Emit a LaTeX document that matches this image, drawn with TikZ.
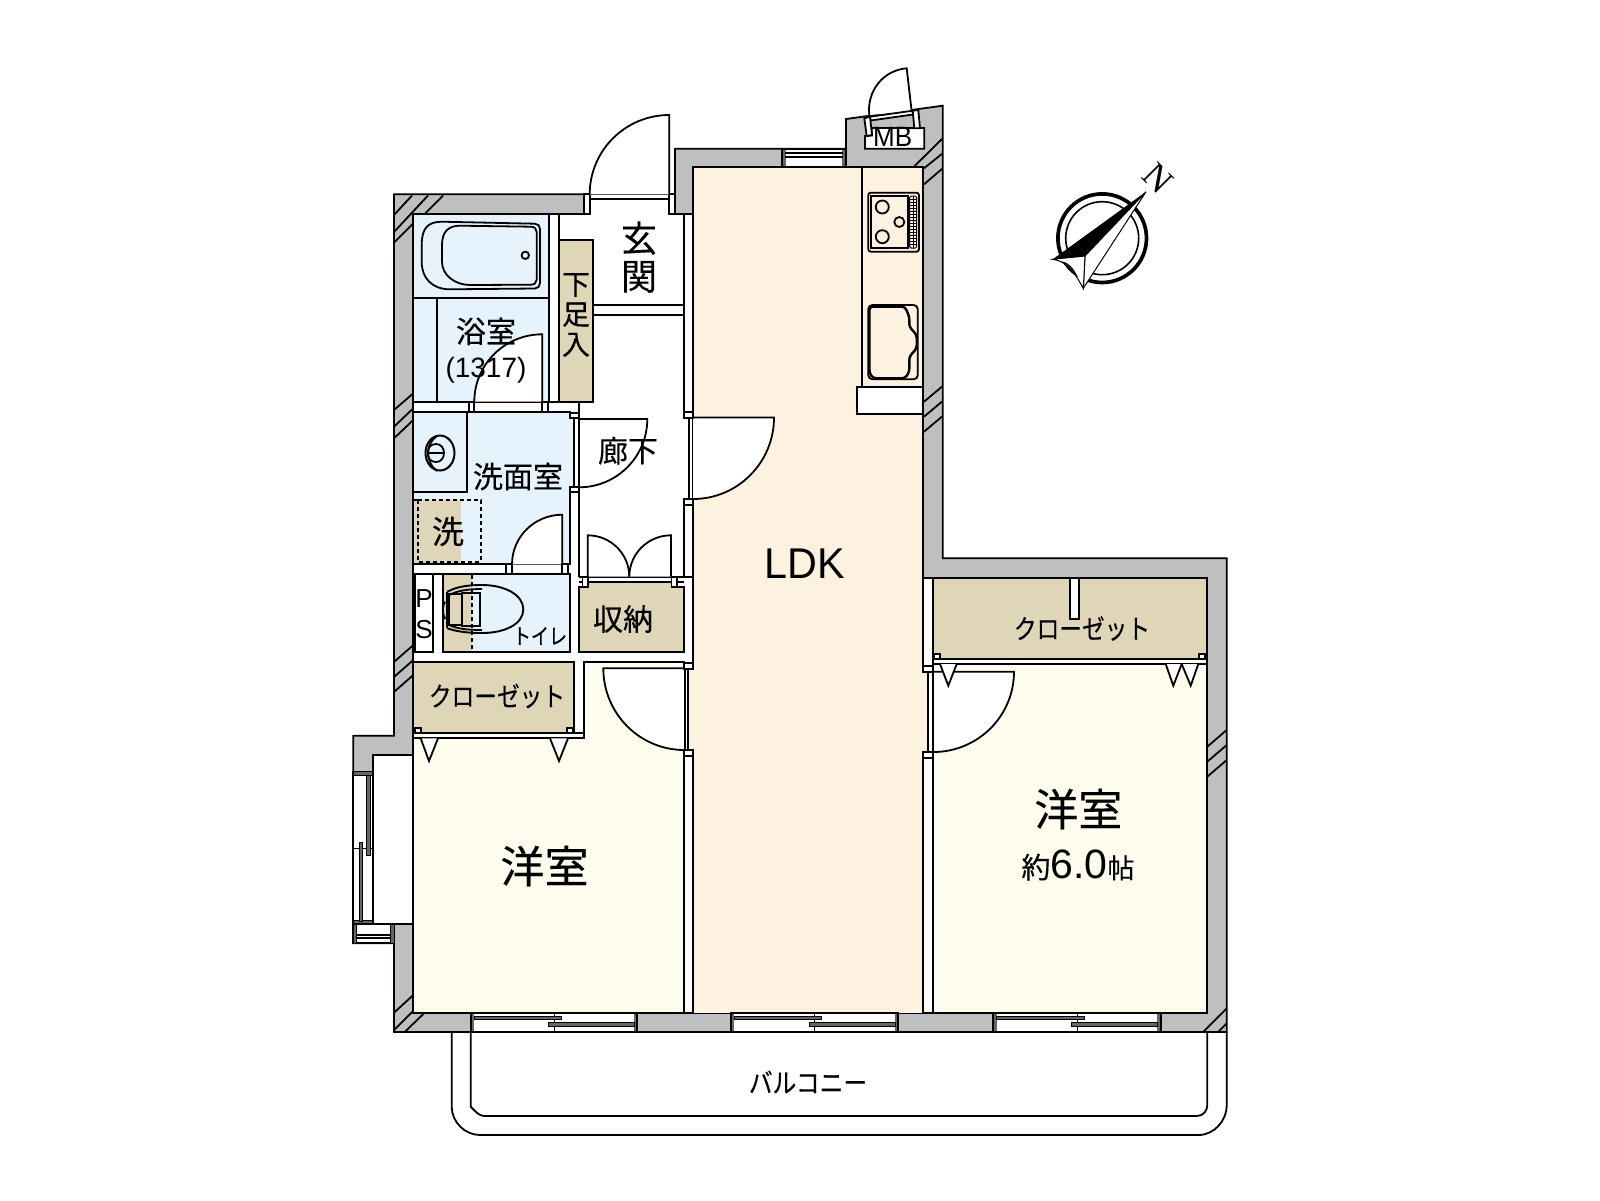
\documentclass[tikz,border=0pt]{standalone}
\usepackage{fontspec}
\usepackage{graphicx}
\usetikzlibrary{calc}
\setmainfont{Liberation Sans}
\newfontfamily\jp[FakeBold=0.25]{Noto Sans CJK JP}
\newcommand\jpfs[2]{\fontsize{#1}{#2}\selectfont}
\definecolor{wallgrey}{HTML}{BEC0BF}
\definecolor{ldkcream}{HTML}{FDF1DF}
\definecolor{roomcream}{HTML}{FFFDEE}
\definecolor{bathblue}{HTML}{E6F3FC}
\definecolor{closettan}{HTML}{DFD6B8}
\definecolor{sashgrey}{HTML}{666666}
\newcommand\swing[4]{%
  \fill[white] (#1) -- (#2) .. controls ($(#2)!.5523!(#4)$) and ($(#3)!.5523!(#4)$) .. (#3) -- cycle;
  \draw[ln] (#1) -- (#2) .. controls ($(#2)!.5523!(#4)$) and ($(#3)!.5523!(#4)$) .. (#3);}
\newcommand\jamb[2]{\draw[ln,fill=white] (#1) rectangle (#2);}
\newcommand\sash[2]{\draw[line width=1pt,fill=sashgrey] (#1) rectangle (#2);}
\newcommand\hatch[2]{\draw[ln] (#1) -- (#2);}
\tikzset{
  ln/.style={line width=1.8pt,black,line join=miter},
  thinln/.style={line width=1pt,black},
  txt/.style={inner sep=0pt,outer sep=0pt,text=black,align=center},
  jptxt/.style={txt,font=\jp},
  dashln/.style={line width=1.7pt,black,dash pattern=on 4pt off 3pt}
}
\begin{document}
\begin{tikzpicture}[x=1pt,y=-1pt]
\useasboundingbox (0,0) rectangle (1600,1200);
\fill[white] (0,0) rectangle (1600,1200);

% balcony
\draw[ln] (451.7,1032) -- (451.7,1106.7) .. controls (451.7,1122) and (465,1135) .. (480,1135) -- (1198.3,1135) .. controls (1214,1135) and (1226.7,1121) .. (1226.7,1105) -- (1226.7,1032);
\draw[ln] (470.7,1032) -- (470.7,1106.7) -- (475,1111) .. controls (478,1114) and (481,1116) .. (485,1116) -- (1196.7,1116) .. controls (1203,1116) and (1207.3,1111) .. (1207.3,1105) -- (1207.3,1032);

% walls
\draw[ln,fill=wallgrey] (394,194.3) -- (675,194.3) -- (675,148.7) -- (846,148.7) -- (846,119) -- (942.7,105.7) -- (942.7,558.3) -- (1226.7,558.3) -- (1226.7,1032) -- (394,1032) -- (394,943.3) -- (353.3,943.3) -- (353.3,735.7) -- (394,735.7) -- cycle;

% hatching on walls
\hatch{394,215}{412,195.5}
\hatch{394,232}{428,195.5}
\hatch{425,213.7}{443,195.5}
\hatch{394,242.7}{413.3,223.3}
\hatch{394,410}{413.3,393.3}
\hatch{394,426.7}{413.3,408.3}
\hatch{394,438.3}{413.3,420}
\hatch{394.3,661.7}{413.3,645}
\hatch{394.3,676.7}{413.3,660}
\hatch{394.3,691.7}{413.3,675}
\hatch{394,1012.7}{413.3,995}
\hatch{394,1030}{413.3,1010.7}
\hatch{405,1031.7}{423.3,1014}
\hatch{913.3,167.3}{942.7,138.3}
\hatch{924,168.3}{942.7,153.3}
\hatch{924,184.3}{942.7,168.3}
\hatch{924,401.7}{942.7,386}
\hatch{924,416.7}{942.7,401}
\hatch{924,431.7}{942.7,416}
\hatch{1207.3,746.7}{1226.7,730}
\hatch{1207.3,761.7}{1226.7,745}
\hatch{1207.3,776.7}{1226.7,760}
\hatch{1203.3,1031.7}{1226.7,1008.3}
\hatch{1218.3,1031.7}{1226.7,1023.3}

% interior base
\draw[ln,fill=white] (413.3,213.7) -- (584,213.7) -- (584,194.3) -- (675,194.3) -- (675,213.7) -- (693,213.7) -- (693,167.3) -- (923.3,167.3) -- (923.3,577.7) -- (1207.3,577.7) -- (1207.3,1012.7) -- (413.3,1012.7) -- (413.3,924) -- (372.7,924) -- (372.7,754.7) -- (413.3,754.7) -- cycle;

% LDK
\fill[ldkcream] (693,167.3) rectangle (923.3,1012.7);
\fill[ldkcream] (688.3,669) rectangle (693.5,750);
\fill[ldkcream] (923,671.7) rectangle (928.3,752);
\draw[ln] (693,213.7) -- (693,167.3) -- (923.3,167.3) -- (923.3,665.7);
\draw[ln] (923.3,758.3) -- (923.3,1012.7);
\draw[ln] (693,505) -- (693,663);
\draw[ln] (693,756) -- (693,1012.7);
\draw[ln] (693,213.7) -- (693,411.7);
\draw[ln] (684,213.7) -- (684,411.7);
\draw[ln] (684,505) -- (684,577);
\draw[ln] (689,417.5) -- (689,499);
% kitchen
\draw[ln] (862,167.3) -- (862,387.3);
\draw[ln,fill=white] (856.7,387.3) rectangle (923.3,414);
% stove
\draw[ln,rounded corners=2.5pt] (868.3,192.7) rectangle (919,251.7);
\draw[ln] (871,195.7) rectangle (908.3,248.3);
\draw[ln] (882.3,207) circle[radius=6.5];
\draw[ln] (899.3,222) circle[radius=5];
\draw[ln] (882.3,236.7) circle[radius=6.5];
\draw[thinln,rounded corners=1.5pt] (909.7,196) rectangle (916.7,248);
\draw[thinln] (913.2,196) -- (913.2,248);
\foreach \gy in {199,202,205,208,211,214,217,220,223,226,229,232,235,238,241,244}
  \draw[thinln] (909.7,\gy) -- (916.7,\gy);
% sink
\draw[ln,rounded corners=4pt] (868.3,305) rectangle (917.7,379.3);
\draw[line width=2.4pt,rounded corners=3pt] (869.5,306.7) -- (905,306.7) -- (909.3,316.7) -- (909.3,326.7) -- (916.7,335) -- (916.7,348.3) -- (909.3,356.7) -- (909.3,371.7) -- (905,378.3) -- (873.3,378.3) -- (869.5,373.3) -- cycle;

% top window
\draw[ln,fill=white] (782,148.7) rectangle (846,167.3);
\fill[sashgrey] (782,148.7) rectangle (785.7,167.3);
\fill[sashgrey] (842.3,148.7) rectangle (846,167.3);
\draw[ln] (785,153.3) -- (843,153.3);
\draw[ln] (785,157.3) -- (843,157.3);
\draw[ln] (782,148.7) rectangle (846,167.3);

% entrance threshold, jambs
\draw[ln] (590,199) -- (669,199);
\jamb{584,194.3}{590,213.7}
\jamb{669,194.3}{675,213.7}
\swing{669.3,194.3}{669.3,115}{589.7,194.3}{589.7,115}

% bathroom
\draw[ln,fill=bathblue] (413.3,213.7) rectangle (549.3,401.7);
\draw[ln] (413.3,297.7) -- (549.3,297.7);
\draw[ln] (437.3,297.7) -- (437.3,401.7);
\draw[ln] (421.7,245) .. controls (421.7,228) and (428,221.7) .. (442,221.7) -- (535,223.7) .. controls (538,223.7) and (540,226) .. (540,229) -- (540,283) .. controls (540,286) and (538,288.5) .. (535,288.5) -- (450,289.3) .. controls (432,289.3) and (421.7,278) .. (421.7,262) -- cycle;
\draw[ln] (442,245) .. controls (442,232) and (448,225.7) .. (460,225.7) -- (531,226.7) .. controls (534.5,226.7) and (536.7,229) .. (536.7,232) -- (536.7,279.5) .. controls (536.7,282.5) and (534.5,284.7) .. (531,284.7) -- (470,285) .. controls (455,285) and (442,275) .. (442,262) -- cycle;
\draw[ln] (525.3,255.3) circle[radius=3.7];
\draw[ln] (413.3,401.7) -- (579,401.7);
\draw[ln] (558.7,213.7) -- (558.7,401.7);
\draw[ln] (413.3,411.7) -- (570,411.7);
\swing{542.3,401.7}{542.3,334.3}{474.3,401.7}{474.3,334.3}
\jamb{469.3,401.7}{474.3,411.7}
\jamb{542.3,401.7}{548.3,411.7}

% shoe cabinet and hall divider
\draw[ln,fill=closettan] (559,240) rectangle (592.7,401.7);
\draw[ln] (592.7,305) -- (684,305);
\draw[ln] (592.7,315) -- (684,315);

% washroom
\draw[ln,fill=bathblue] (413.3,411.7) -- (570,411.7) -- (570,416) -- (574,416) -- (574,487) -- (570,487) -- (570,564.3) -- (413.3,564.3) -- cycle;
\draw[ln] (579,401.7) -- (579,576.7);
\draw[ln,fill=bathblue] (413.3,411.7) rectangle (467.3,492.3);
\draw[line width=2pt] (440,453) ellipse[x radius=14.5,y radius=17.5];
\draw[ln] (437,471) .. controls (425,462) and (425,444) .. (437,436);
\draw[ln] (427,453) -- (444,453);
\draw[ln] (436,444) .. controls (430,444) and (428,448) .. (428,453) .. controls (428,458) and (430,462) .. (436,462) .. controls (441,462) and (444,458) .. (444,453) .. controls (444,448) and (441,444) .. (436,444);
\fill[closettan] (414,500) rectangle (461,563);
\draw[dashln] (417.7,500) -- (480.7,500) -- (480.7,561.7) -- (417.7,561.7) -- cycle;
\draw[dashln] (414,500) -- (417.7,500);
\draw[ln] (413.3,564.3) -- (570,564.3);
\swing{562.3,564.3}{562.3,514.7}{512,564.3}{512,514.7}
\draw[ln] (413.3,574) -- (506,574);
\jamb{506,564.3}{512,574}
\jamb{562,564.3}{568,574}

% corridor door to the washroom
\swing{579,419}{647.3,419}{579,487.3}{647.3,487.3}
\draw[ln] (579,418) -- (579,492);
\jamb{570,413.3}{579,418.3}
\jamb{570,487.3}{579,492}

% PS
\draw[ln,fill=white] (415,574.3) rectangle (433.3,651.7);

% toilet
\draw[ln,fill=bathblue] (443,574.3) rectangle (570,651.7);
\fill[closettan] (444,575.2) rectangle (472,650.8);
\draw[ln] (443,574.3) rectangle (570,651.7);
\draw[dashln] (471.7,575) -- (471.7,651);
\draw[ln] (445.3,601.7) .. controls (442,606) and (442,614) .. (445.3,619);
\draw[ln] (447.3,591.7) -- (447.3,628.3);
\draw[line width=1.9pt] (447.3,591.7) .. controls (458,586) and (470,585) .. (482,585) .. controls (505,585) and (523.3,595) .. (523.3,609.3) .. controls (523.3,624) and (505,633) .. (482,633) .. controls (470,633) and (458,632) .. (447.3,628.3);
\draw[ln] (449,595) .. controls (458,590.5) and (468,589) .. (482,589);
\draw[ln] (449,625) .. controls (458,629) and (468,630) .. (482,630);
\draw[ln] (449.3,594.3) rectangle (461.7,625);
\draw[ln] (461.7,593.3) rectangle (480,626);

% storage
\draw[ln] (579,576.7) -- (693,576.7);
\draw[ln] (579,581.7) -- (684,581.7);
\swing{587.7,576.7}{587.7,535.3}{629.3,576.7}{629.3,535.3}
\swing{671,576.7}{671,535.3}{629.3,576.7}{629.3,535.3}
\draw[ln,fill=closettan] (579.3,586.7) -- (587,586.7) -- (587,581.7) -- (672,581.7) -- (672,586.7) -- (684.3,586.7) -- (684.3,651.7) -- (579.3,651.7) -- cycle;
\jamb{582.5,577}{588,586.7}
\jamb{671.5,577}{677,586.7}

% west room
\draw[ln,fill=roomcream] (413.3,738.3) -- (584,738.3) -- (584,661.7) -- (684.3,661.7) -- (684.3,1012.7) -- (413.3,1012.7) -- cycle;
\swing{684.3,668.3}{603.3,668.3}{684.3,750}{603.3,750}
\draw[ln] (685.3,668.3) -- (685.3,750);
\draw[ln] (688.3,668.3) -- (688.3,750);
\jamb{684.3,663.3}{693.3,669}
\jamb{684.3,750}{693.3,756}

% west closet
\draw[ln,fill=closettan] (413.3,661.7) rectangle (574,733.3);
\draw[ln,fill=white] (413.3,733.3) rectangle (584,738.3);
\jamb{415,728}{420.7,733.3}
\jamb{567,728}{573,733.3}
\draw[ln,fill=white] (420.7,738.3) -- (429,761) -- (438,738.3);
\draw[ln,fill=white] (550,738.3) -- (559,761) -- (568,738.3);

% east room and closet
\draw[ln,fill=roomcream] (933.3,664) rectangle (1207.3,1012.7);
\draw[ln,fill=closettan] (933.3,577.7) rectangle (1207.3,659.3);
\draw[ln,fill=white] (1070,577.7) rectangle (1079.3,619);
\draw[ln,fill=white] (933.3,659.3) rectangle (1207.3,664);
\draw[ln] (923.3,577.7) -- (1207.3,577.7);
\jamb{934.3,654.3}{940,659.3}
\jamb{1199,654.3}{1205,659.3}
\swing{933.3,671.7}{1014,671.7}{933.3,752}{1014,752}
\draw[ln,fill=white] (940,664) -- (948.3,685.7) -- (956.7,664);
\draw[ln,fill=white] (1165.7,664) -- (1173.3,685.7) -- (1181.7,664);
\draw[ln,fill=white] (1181.7,664) -- (1190.7,685.7) -- (1198.3,664);
\draw[ln] (928.3,671.7) -- (928.3,752);
\draw[ln] (933.3,671.7) -- (933.3,752);
\jamb{923.3,665.7}{933.3,671.7}
\jamb{923.3,752.3}{933.3,758.3}
\draw[ln] (933.3,577.7) -- (933.3,665.7);
\draw[ln] (933.3,758) -- (933.3,1012.7);

% LDK door
\swing{693,417.5}{774,417.5}{693,499}{774,499}
\draw[ln] (692.5,417.5) -- (692.5,499);
\jamb{684,411.7}{693,418}
\jamb{684,499}{693,505}

% bay window
\draw[ln,fill=white] (353.3,771.7) rectangle (372.7,922);
\draw[line width=1pt,fill=sashgrey] (353.3,771.7) rectangle (372.7,775.5);
\draw[line width=1pt,fill=sashgrey] (353.3,920.5) rectangle (372.7,924);
\draw[thinln] (353.3,848.3) -- (372.7,848.3);
\sash{366.7,775}{370.7,855}
\sash{359,842.3}{362.7,921.7}
\draw[ln,fill=white] (353.3,924) rectangle (394,943.3);
\sash{353.3,924}{356.7,943.3}
\sash{390.7,924}{394,943.3}
\draw[ln] (356.7,935) -- (390.7,935);
\draw[ln] (356.7,938.3) -- (390.7,938.3);
\draw[ln] (372.7,754.7) -- (372.7,771.7);

% south windows
\foreach \xa/\xb/\xc/\sa/\sb in {470.7/637.3/554.3/561.7/548.3, 730.7/898.3/814.7/821.7/809, 993.3/1160.7/1077.7/1084/1071} {
  \draw[ln,fill=white] (\xa,1012.7) rectangle (\xb,1031.7);
  \fill[sashgrey] (\xa,1012.7) rectangle ({\xa+3.3},1031.7);
  \fill[sashgrey] ({\xb-3.3},1012.7) rectangle (\xb,1031.7);
  \draw[ln] (\xa,1012.7) rectangle (\xb,1031.7);
  \draw[thinln] (\xc,1012.7) -- (\xc,1031.7);
  \sash{{\xa+3.3},1016.3}{\sa,1019.7}
  \sash{\sb,1022.8}{{\xb-3.3},1026.3}
}

% MB
\draw[ln,fill=white] (865,148.7) -- (865,136) -- (872,135.5) -- (871.5,128) -- (924.3,128) -- (924.3,148.7) -- cycle;
\swing{911.7,111.7}{906.7,68.3}{869.3,115}{864.3,71.6}
\draw[ln,fill=white] (870,116.7) -- (912.7,110.7) -- (913,114.5) -- (870.5,120.5) -- cycle;
\draw[ln,fill=white] (864.3,118.3) -- (870,116.7) -- (872,135) -- (866.7,136) -- cycle;
\draw[ln,fill=white] (912.7,110.7) -- (918.3,110) -- (920,128.3) -- (914.3,128.3) -- cycle;

% compass
\draw[line width=3.7pt] (1102.2,238.2) circle[radius=44.3];
\draw[line width=1.6pt] (1102.2,238.2) circle[radius=36.5];
\draw[thinln,fill=white] (1146,191.7) -- (1085,256) -- (1083.3,288.3) -- cycle;
\draw[thinln,fill=white] (1052.7,259.3) -- (1085,256) -- (1083.3,288.3) .. controls (1076,276) and (1070,262) .. cycle;
\fill[black] (1146,191.7) -- (1052.7,259.3) -- (1085,256) -- cycle;
\draw[line width=1.2pt] (1062,262) .. controls (1068,263) and (1073,268) .. (1077,277);
\node[txt,rotate=-45,font=\jpfs{36}{36}\fontspec{Liberation Serif}] (northmark) at (1158,178) {N};

% labels
\node[jptxt,font=\jp\jpfs{36}{38}] (genkan) at (639,257) {玄\\関};
\node[jptxt,font=\jp\jpfs{28}{30}] (getabako) at (576,315) {下\\足\\入};
\node[jptxt,font=\jp\jpfs{30}{35}] (bath) at (486,350.5) {浴室\\{\rmfamily\jpfs{28}{35}(1317)}};
\node[jptxt,font=\jp\jpfs{30}{30}] (rouka) at (628,450.7) {廊下};
\node[jptxt,font=\jp\jpfs{30}{30}] (senmen) at (518,476.5) {洗面室};
\node[jptxt,font=\jp\jpfs{32}{32}] (sentaku) at (448,531.5) {洗};
\node[txt,font=\jpfs{26}{31}] (pslabel) at (424,614) {P\\S};
\node[jptxt,font=\jp\jpfs{22}{22}] (toilet) at (540,636) {\scalebox{.82}[1]{トイレ}};
\node[jptxt,font=\jp\jpfs{30}{30}] (shuno) at (623,619) {収納};
\node[jptxt,font=\jp\jpfs{27}{27}] (closetw) at (497,696) {\scalebox{.84}[1]{クローゼット}};
\node[jptxt,font=\jp\jpfs{27}{27}] (closete) at (1082,628.5) {\scalebox{.84}[1]{クローゼット}};
\node[txt,font=\jpfs{43}{43}] (ldk) at (804.5,563.5) {\scalebox{.96}[1]{LDK}};
\node[txt,font=\jpfs{28}{28}] (mblabel) at (892.7,136.5) {\scalebox{.93}[1]{MB}};
\node[jptxt,font=\jp\jpfs{44}{44}] (roomw) at (544.5,866) {洋室};
\node[jptxt,font=\jp\jpfs{44}{44}] (roome) at (1078.3,809) {洋室};
\node[txt,font=\jpfs{41}{41}] (area) at (1078,865) {{\jp\jpfs{29}{29}約}6.0{\jp\jpfs{27}{27}帖}};
\node[jptxt,font=\jp\jpfs{27}{27}] (balcony) at (808,1082) {\scalebox{.88}[1]{バルコニー}};
\end{tikzpicture}
\end{document}
